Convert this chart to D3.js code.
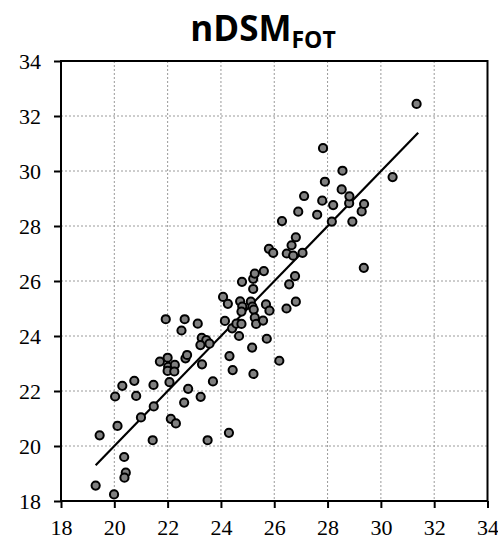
<!DOCTYPE html>
<html>
<head>
<meta charset="utf-8">
<script src="https://cdn.jsdelivr.net/npm/d3@7"></script>
<style>
  html, body { margin: 0; padding: 0; background: #fff; }
  svg { display: block; }
</style>
</head>
<body>
<svg id="chart" width="498" height="539"></svg>
<script>
// ---- data ----
const titleMain = "nDSM";
const titleSub = "FOT";
const xTicks = [18, 20, 22, 24, 26, 28, 30, 32, 34];
const yTicks = [18, 20, 22, 24, 26, 28, 30, 32, 34];
const xValues = [
  19.30, 19.99, 20.37, 20.43, 20.38, 19.45, 20.12, 20.03, 20.30, 20.75,
  20.82, 21.00, 21.44, 21.47, 21.48, 22.12, 22.31, 22.07, 22.62, 22.77,
  23.24, 23.50, 23.70, 24.30, 24.32, 24.44, 21.71, 22.00, 22.02, 22.27,
  22.00, 22.25, 22.67, 22.73, 23.29, 23.28, 23.45, 23.23, 23.57, 22.52,
  21.93, 22.64, 23.13, 24.15, 24.42, 24.58, 24.77, 24.68, 24.08, 24.26,
  24.72, 24.80, 24.77, 25.12, 25.18, 25.23, 25.27, 25.32, 25.58, 25.69,
  25.82, 25.72, 25.17, 25.22, 26.19, 24.79, 25.21, 25.21, 25.27, 25.61,
  26.78, 26.56, 26.81, 26.46, 25.80, 25.96, 26.47, 26.71, 26.65, 27.06,
  26.81, 26.29, 26.90, 27.12, 27.61, 27.80, 28.21, 28.16, 28.93, 29.28,
  29.37, 28.81, 28.82, 28.53, 27.90, 28.56, 27.83, 30.44, 29.36, 31.34
];
const yValues = [
  18.56, 18.24, 19.60, 19.03, 18.85, 20.39, 20.73, 21.80, 22.19, 22.37,
  21.82, 21.04, 20.21, 22.22, 21.44, 20.99, 20.82, 22.32, 21.58, 22.08,
  21.79, 20.21, 22.35, 20.48, 23.27, 22.76, 23.07, 23.21, 22.88, 22.95,
  22.73, 22.71, 23.19, 23.31, 22.97, 23.93, 23.85, 23.67, 23.72, 24.20,
  24.61, 24.61, 24.45, 24.55, 24.28, 24.45, 24.44, 24.00, 25.42, 25.17,
  25.26, 25.07, 24.89, 25.25, 25.07, 24.96, 24.67, 24.44, 24.56, 25.15,
  24.92, 23.90, 23.58, 22.62, 23.10, 25.97, 25.71, 26.08, 26.27, 26.36,
  26.18, 25.88, 25.25, 25.00, 27.17, 27.02, 27.00, 26.92, 27.30, 27.02,
  27.59, 28.18, 28.52, 29.09, 28.41, 28.92, 28.76, 28.16, 28.16, 28.53,
  28.80, 28.83, 29.08, 29.33, 29.61, 30.01, 30.83, 29.78, 26.48, 32.44
];
const fitRange = [19.3, 31.4];
const fitSlope = 0.999;
const fitIntercept = 0.02;

// ---- layout ----
const svg = d3.select("#chart");
const mLeft = 61, mRight = 487.5, mTop = 61, mBottom = 501;

const x = d3.scaleLinear().domain([18, 34]).range([mLeft, mRight]);
const y = d3.scaleLinear().domain([18, 34]).range([mBottom, mTop]);

// grid
const grid = svg.append("g");
grid.selectAll("line.gx").data(xTicks.slice(1, -1)).join("line")
  .attr("x1", d => x(d)).attr("x2", d => x(d))
  .attr("y1", mTop).attr("y2", mBottom)
  .attr("stroke", "#9a9a9a").attr("stroke-width", 1)
  .attr("stroke-dasharray", "2,2");
grid.selectAll("line.gy").data(yTicks.slice(1, -1)).join("line")
  .attr("y1", d => y(d)).attr("y2", d => y(d))
  .attr("x1", mLeft).attr("x2", mRight)
  .attr("stroke", "#9a9a9a").attr("stroke-width", 1)
  .attr("stroke-dasharray", "2,2");

// frame
svg.append("rect")
  .attr("x", mLeft).attr("y", mTop)
  .attr("width", mRight - mLeft).attr("height", mBottom - mTop)
  .attr("fill", "none").attr("stroke", "#000").attr("stroke-width", 2);

// axes
const xAxis = d3.axisBottom(x).tickValues(xTicks).tickSize(7).tickPadding(11).tickFormat(d3.format("d"));
const yAxis = d3.axisLeft(y).tickValues(yTicks).tickSize(7).tickPadding(13).tickFormat(d3.format("d"));

const gx = svg.append("g").attr("transform", `translate(0,${mBottom})`).call(xAxis);
const gy = svg.append("g").attr("transform", `translate(${mLeft},0)`).call(yAxis);
[gx, gy].forEach(g => {
  g.select(".domain").remove();
  g.selectAll(".tick line").attr("stroke", "#000").attr("stroke-width", 2);
  g.selectAll(".tick text")
    .attr("fill", "#000")
    .style("font-family", "'Liberation Serif', 'Times New Roman', serif")
    .style("font-size", "22px");
});

// regression line
svg.append("line")
  .attr("x1", x(fitRange[0])).attr("y1", y(fitIntercept + fitSlope * fitRange[0]))
  .attr("x2", x(fitRange[1])).attr("y2", y(fitIntercept + fitSlope * fitRange[1]))
  .attr("stroke", "#000").attr("stroke-width", 2.2);

// points
const pts = xValues.map((v, i) => ({ x: v, y: yValues[i] }));
svg.append("g").selectAll("circle").data(pts).join("circle")
  .attr("cx", d => x(d.x)).attr("cy", d => y(d.y))
  .attr("r", 4.1)
  .attr("fill", "#808080")
  .attr("stroke", "#000").attr("stroke-width", 2);

// title
const title = svg.append("text")
  .attr("x", 263).attr("y", 41)
  .attr("text-anchor", "middle")
  .style("font-family", "'Open Sans', 'Noto Sans', sans-serif")
  .style("font-weight", "bold")
  .style("font-size", "35px")
  .attr("fill", "#000");
title.append("tspan").text(titleMain);
title.append("tspan").text(titleSub)
  .attr("dy", 7).style("font-size", "23px");
</script>
</body>
</html>
